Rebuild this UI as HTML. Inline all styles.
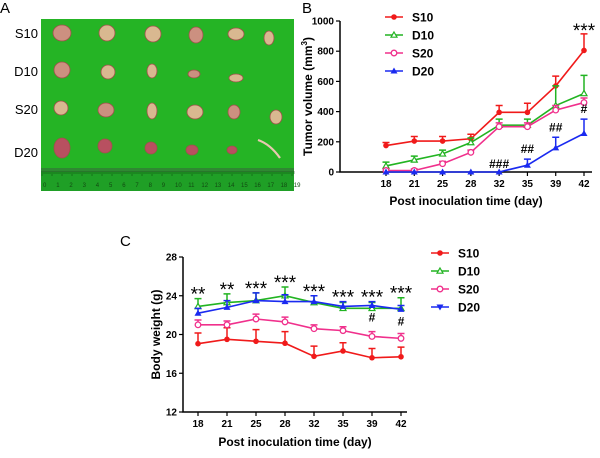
<!DOCTYPE html>
<html><head><meta charset="utf-8"><style>
body{margin:0;background:#fff;width:600px;height:453px;overflow:hidden;font-family:"Liberation Sans",Arial,sans-serif}
svg text{font-family:"Liberation Sans",Arial,sans-serif}
</style></head><body>
<svg id="fig" width="600" height="453" viewBox="0 0 600 453">
<text x="0" y="13" font-size="15">A</text>
<g>
<rect x="41" y="19" width="253" height="172" fill="#25b425"/>
<rect x="41" y="168" width="253" height="23" fill="#1f9f26"/>
<rect x="41" y="168" width="253" height="4" fill="#3a7a3a" opacity="0.6"/>
<g id="ruler" font-size="6" fill="#124a12"></g>
<g id="tumors"></g>
<path d="M258,140 Q270,144 280,158" stroke="#e8c8b0" stroke-width="2.2" fill="none"/>
</g>
<g font-size="13" text-anchor="end">
<text x="38" y="38">S10</text><text x="38" y="76">D10</text><text x="38" y="114">S20</text><text x="38" y="157">D20</text>
</g>
<text x="302" y="13" font-size="15">B</text>
<text x="120" y="246" font-size="15">C</text>
<g id="chartB"></g>
<g id="chartC"></g>
</svg>
<script>
const days=["18","21","25","28","32","35","39","42"];
const groups=["S10","D10","S20","D20"];
const colors=["#f01a1a","#22b422","#f0308c","#1a2af0"];
const volS10=[175,205,205,220,395,395,570,805];
const volD10=[40,80,120,195,310,310,440,520];
const volS20=[10,10,55,130,300,300,410,460];
const volD20=[0,0,0,0,0,45,160,255];
const volErrS10=[20,30,30,30,45,60,65,110];
const volErrD10=[25,25,25,30,40,40,130,120];
const volErrS20=[10,10,15,15,25,25,30,30];
const volErrD20=[0,0,0,0,0,40,70,95];
const volTicks=[0,200,400,600,800,1000];
const volAnn=["","","","","###","##","##","#"];
const wS10=[19.05,19.5,19.3,19.1,17.75,18.3,17.6,17.7];
const wD10=[22.9,23.3,23.5,24.0,23.3,22.7,22.7,22.7];
const wS20=[21.0,21.0,21.6,21.3,20.6,20.4,19.8,19.6];
const wD20=[22.2,22.8,23.5,23.4,23.4,22.9,23.0,22.6];
const wErrS10=[1.1,1.2,1.2,1.2,1.05,0.85,0.95,1.0];
const wErrD10=[0.8,0.9,0.8,0.9,0.7,0.6,0.6,1.1];
const wErrS20=[0.5,0.4,0.5,0.5,0.4,0.4,0.5,0.5];
const wErrD20=[0.5,0.7,0.8,0.7,0.6,0.5,0.4,0.4];
const wTicks=[12,16,20,24,28];
const wStars=["**","**","***","***","***","***","***","***"];
const wHash=["","","","","","","#","#"];
const NS="http://www.w3.org/2000/svg";
function mk(p,tag,at,txt){const e=document.createElementNS(NS,tag);for(const k in at)e.setAttribute(k,at[k]);if(txt!==undefined)e.textContent=txt;p.appendChild(e);return e;}
const tum=[[62,33,9,8],[107,33,8,8],[153,34,8,8],[196,35,7,8],[236,34,8,6],[269,38,5,7],
[62,70,8,8],[108,72,7,7],[152,71,5,7],[194,74,6,4],[236,78,7,4],
[61,108,7,7],[106,110,8,7],[152,111,5,8],[195,112,8,7],[234,112,6,7],[276,117,6,7],
[62,148,8,10],[105,146,7,7],[151,148,6,6],[192,150,6,5],[232,150,5,4]];
const tg=document.getElementById('tumors');
tum.forEach((t,i)=>{const e=mk(tg,'ellipse',{cx:t[0],cy:t[1],rx:t[2],ry:t[3],fill:i>=17?'#b85060':(i%3?'#d9b890':'#cc9080'),stroke:'#a0504a','stroke-width':0.8});

});
const rg=document.getElementById('ruler');
for(let i=0;i<=19;i++){mk(rg,'text',{x:43+i*13.2,y:187},String(i));}
for(let i=0;i<=126;i++){mk(rg,'line',{x1:42+i*2,x2:42+i*2,y1:171,y2:i%5?174:176,stroke:'#104010','stroke-width':0.5});}

function chart(g,cfg){
  const {x0,x1,y0,y1,xs,xe,vmin,vmax}=cfg;
  const X=i=>xs+i*(xe-xs)/(days.length-1);
  const Y=v=>y0-(v-vmin)/(vmax-vmin)*(y0-y1);
  const ax=mk(g,'path',{d:`M${x0},${y1} V${y0} H${x1}`,stroke:'#000','stroke-width':1.5,fill:'none'});
  
  
  cfg.ticks.forEach(t=>{mk(g,'line',{x1:x0-4,x2:x0,y1:Y(t),y2:Y(t),stroke:'#000','stroke-width':1.2});
    const l=mk(g,'text',{x:x0-6,y:Y(t)+3.5,'font-size':10,'font-weight':'bold','text-anchor':'end'},String(t));
    
    });
  days.forEach((d,i)=>{mk(g,'line',{x1:X(i),x2:X(i),y1:y0,y2:y0+4,stroke:'#000','stroke-width':1.2});
    const l=mk(g,'text',{x:X(i),y:y0+15,'font-size':10,'font-weight':'bold','text-anchor':'middle'},d);
    
    });
  const xt=mk(g,'text',{x:(x0+x1)/2,y:cfg.xlabY,'font-size':12,'font-weight':'bold','text-anchor':'middle'},'Post inoculation time (day)');
  
  
  const yt=mk(g,'text',{transform:`translate(${cfg.ylabX},${(y0+y1)/2}) rotate(-90)`,'font-size':12,'font-weight':'bold','text-anchor':'middle'});
  
  
  if(cfg.sup){yt.textContent='Tumor volume (mm';const s=mk(yt,'tspan',{'font-size':8,dy:-5},'3');mk(yt,'tspan',{dy:5},')');}
  else yt.textContent='Body weight (g)';
  cfg.series.forEach((s,k)=>{
    const c=colors[k];
    const sg=mk(g,'g',{});
    
    
    s.v.forEach((v,i)=>{if(s.e[i]>0){const yt=Y(v+s.e[i]);mk(sg,'path',{d:`M${X(i)},${Y(v)} V${yt} M${X(i)-3.5},${yt} H${X(i)+3.5}`,stroke:c,'stroke-width':1.5,fill:'none'});}});
    mk(sg,'polyline',{points:s.v.map((v,i)=>X(i)+','+Y(v)).join(' '),fill:'none',stroke:c,'stroke-width':1.6});
    s.v.forEach((v,i)=>{const m=marker(sg,k,X(i),Y(v),c);});
  });
  return {X,Y};
}
function marker(p,k,x,y,c){
  if(k===0)return mk(p,'circle',{cx:x,cy:y,r:2.8,fill:c});
  if(k===1)return mk(p,'path',{d:`M${x},${y-3} L${x+3},${y+2.2} L${x-3},${y+2.2}Z`,fill:'#fff',stroke:c,'stroke-width':1.2});
  if(k===2)return mk(p,'circle',{cx:x,cy:y,r:2.8,fill:'#fff',stroke:c,'stroke-width':1.3});
  return mk(p,'path',{d:`M${x},${y-3.5} L${x+3.5},${y+2.5} L${x-3.5},${y+2.5}Z`,fill:c});
}
function legend(g,x,ys,tri){
  groups.forEach((n,k)=>{const lg=mk(g,'g',{});
    
    
    mk(lg,'line',{x1:x,x2:x+18,y1:ys[k],y2:ys[k],stroke:colors[k],'stroke-width':1.6});
    if(tri&&k===3){mk(lg,'path',{d:`M${x+9},${ys[k]+3.5} L${x+12.5},${ys[k]-2.5} L${x+5.5},${ys[k]-2.5}Z`,fill:colors[k]});}
    else marker(lg,k,x+9,ys[k],colors[k]);
    mk(lg,'text',{x:x+27,y:ys[k]+4.5,'font-size':12,'font-weight':'bold'},n);});
}
const gB=document.getElementById('chartB');
const B=chart(gB,{x0:340,x1:592,y0:172,y1:21,xs:386,xe:584,vmin:0,vmax:1000,ticks:volTicks,xlabY:205,ylabX:312,sup:true,
 series:[{v:volS10,e:volErrS10},{v:volD10,e:volErrD10},{v:volS20,e:volErrS20},{v:volD20,e:volErrD20}]});
legend(gB,385,[17,35,53,71],false);
volAnn.forEach((a,i)=>{if(a){const y=B.Y(volD20[i]+volErrD20[i])-6;const t=mk(gB,'text',{x:B.X(i),y:i===4?y+2:y,'font-size':12,'font-weight':'bold','text-anchor':'middle'},a);}});
const st=mk(gB,'text',{x:B.X(7),y:B.Y(volS10[7]+volErrS10[7])+3,'font-size':19,'text-anchor':'middle'},'***');


const gC=document.getElementById('chartC');
const C=chart(gC,{x0:183,x1:407,y0:412,y1:257,xs:198,xe:401,vmin:12,vmax:28,ticks:wTicks,xlabY:446,ylabX:160,sup:false,
 series:[{v:wS10,e:wErrS10},{v:wD10,e:wErrD10},{v:wS20,e:wErrS20},{v:wD20,e:wErrD20}]});
legend(gC,431,[253,271,289,307],true);
wStars.forEach((a,i)=>{const top=Math.max(wD10[i]+wErrD10[i],wD20[i]+wErrD20[i]);const t=mk(gC,'text',{x:C.X(i),y:Math.min(C.Y(top)-4,C.Y(23.8))+6,'font-size':19,'text-anchor':'middle'},a);});
wHash.forEach((a,i)=>{if(a){const t=mk(gC,'text',{x:C.X(i),y:C.Y(wD20[i])+16,'font-size':12,'font-weight':'bold','text-anchor':'middle'},a);}});
</script>
</body></html>
